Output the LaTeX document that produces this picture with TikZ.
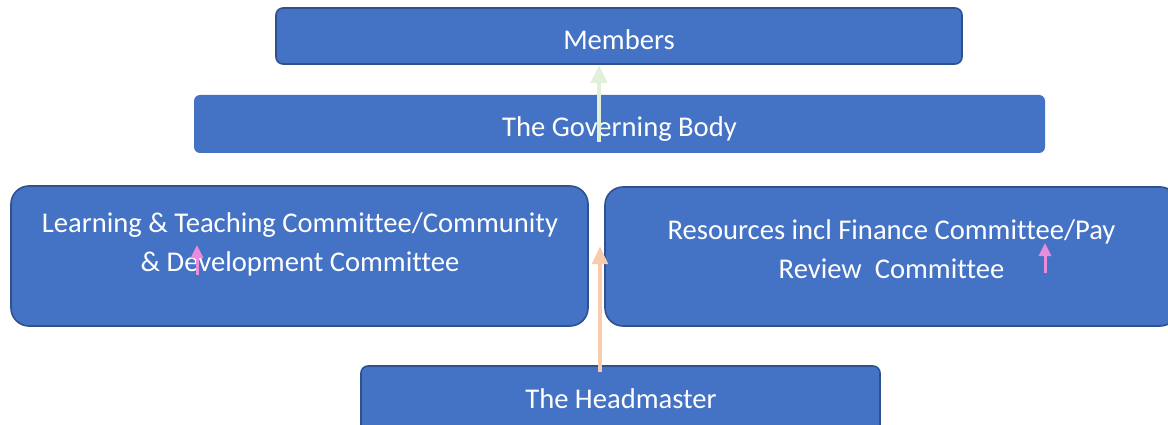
\documentclass[tikz,border=0pt]{standalone}
\usepackage{fontspec}
\setmainfont{Carlito}[Ligatures={NoCommon}]
\usetikzlibrary{arrows.meta}
\definecolor{boxblue}{HTML}{4472C4}
\definecolor{boxedge}{HTML}{2F528F}
\definecolor{arrgreen}{HTML}{E2F0D9}
\definecolor{arrorange}{HTML}{F8CBAD}
\definecolor{arrpink}{HTML}{EA8CDC}
\tikzset{
  box/.style={fill=boxblue, draw=boxedge, line width=1.6pt, inner sep=0pt},
  flatbox/.style={fill=boxblue, draw=none, inner sep=0pt},
  lbl/.style={text=white, font=\fontsize{28.6}{39}\selectfont, align=center, inner sep=0pt, anchor=base},
  greenarr/.style={draw=arrgreen, line width=4.5pt, -{Triangle[length=18pt,width=16pt]}},
  orangearr/.style={draw=arrorange, line width=4.5pt, -{Triangle[length=18pt,width=15pt]}},
  pinkarr/.style={draw=arrpink, line width=3pt, -{Triangle[length=13pt,width=12pt]}}
}
\begin{document}
\begin{tikzpicture}[x=1pt,y=-1pt]
\clip (0,0) rectangle (1168,425);
\fill[white] (0,0) rectangle (1168,425);
% boxes
\node[box, rounded corners=7pt, minimum width=686pt, minimum height=56pt] (members) at (619,36) {};
\node[flatbox, rounded corners=6pt, minimum width=851pt, minimum height=58pt] (gov) at (619.5,124) {};
\node[box, rounded corners=18pt, minimum width=577pt, minimum height=140pt] (lt) at (299.5,256) {};
\node[box, rounded corners=18pt, minimum width=573pt, minimum height=139pt] (res) at (891.5,256.5) {};
\node[box, rounded corners=7pt, minimum width=519pt, minimum height=70pt] (head) at (620.5,401) {};
% labels
\node[lbl] (memberstext) at (619,50) {Members};
\node[lbl] (govtext) at (619.5,137) {The Governing Body};
\node[lbl] (lttext) at (300,271) {Learning \& Teaching Committee/Community\\\& Development Committee};
\node[lbl] (restext) at (891.5,278) {Resources incl Finance Committee/Pay\\Review\ \ Committee};
\node[lbl] (headtext) at (621,408) {The Headmaster};
% arrow endpoints
\coordinate (g1) at (599,142);
\coordinate (g2) at (599,65);
\coordinate (o1) at (600,372);
\coordinate (o2) at (600,246);
\coordinate (p1) at (197,275);
\coordinate (p2) at (197,245);
\coordinate (q1) at (1045,273);
\coordinate (q2) at (1045,243);
\draw[greenarr] (g1) -- (g2);
\draw[orangearr] (o1) -- (o2);
\draw[pinkarr] (p1) -- (p2);
\draw[pinkarr] (q1) -- (q2);
\end{tikzpicture}
\end{document}
